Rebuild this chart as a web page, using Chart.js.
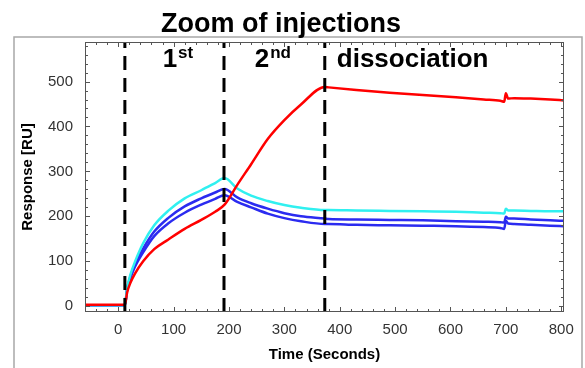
<!DOCTYPE html>
<html>
<head>
<meta charset="utf-8">
<script src="https://cdn.jsdelivr.net/npm/chart.js@4.4.1/dist/chart.umd.min.js"></script>
<style>
  html, body { margin: 0; padding: 0; background: #fff; }
</style>
</head>
<body>
<canvas id="sprChart" width="585" height="368"></canvas>
<script>
// time axis (seconds), shared by all sensorgrams
var times = [-60, 0, 12, 16, 22, 30, 45, 65, 90, 120, 150, 175, 192, 215, 240, 270, 300, 330, 373, 380, 430, 490, 550, 610, 660, 690, 697, 700, 704, 715, 745, 780, 805];

// response (RU)
var redCurve   = [3, 3, 3, 30, 52, 72, 100, 127, 148, 172, 192, 210, 226, 270, 316, 372, 414, 449, 488, 487, 481, 475, 470, 465, 460, 457, 455, 474, 462, 463, 462, 460, 458];
var cyanCurve  = [2, 2, 2, 40, 70, 98, 140, 180, 212, 240, 258, 274, 285, 262, 246, 234, 225, 219, 214, 214, 213, 212, 211, 210, 208, 207, 206, 217, 213, 213, 212, 211, 211];
var blueCurve1 = [2, 2, 2, 38, 66, 92, 128, 166, 196, 222, 240, 253, 261, 242, 229, 217, 207, 200, 195, 194, 193, 192, 191, 189, 188, 187, 186, 199, 195, 195, 193, 191, 190];
var blueCurve2 = [2, 2, 2, 36, 62, 87, 120, 156, 184, 208, 226, 239, 247, 232, 220, 206, 196, 189, 183, 183, 181, 180, 179, 178, 176, 174, 172, 190, 184, 183, 181, 179, 178];

// injection start / switch / dissociation start
var injectionTimes = [12, 191, 373];

// tick labels
var xTickValues = [0, 100, 200, 300, 400, 500, 600, 700, 800];
var yTickValues = [0, 100, 200, 300, 400, 500];

var xMin = -60, xMax = 805, yMin = -13, yMax = 588;
var FONT = '"Liberation Sans", Arial, sans-serif';

function toPoints(vals) {
  return vals.map(function (v, i) { return { x: times[i], y: v }; });
}

function curve(label, vals, color, order) {
  return {
    label: label,
    data: toPoints(vals),
    borderColor: color,
    borderWidth: 2.5,
    pointRadius: 0,
    cubicInterpolationMode: "monotone",
    fill: false,
    order: order
  };
}

var dashSets = injectionTimes.map(function (t) {
  return {
    label: "inj" + t,
    data: [{ x: t, y: yMin }, { x: t, y: yMax }],
    borderColor: "#000",
    borderWidth: 3,
    borderDash: [14, 8],
    pointRadius: 0,
    order: 0
  };
});

var framePlugin = {
  id: "frame",
  beforeDraw: function (chart) {
    var ctx = chart.ctx;
    ctx.save();
    ctx.fillStyle = "#fff";
    ctx.fillRect(0, 0, chart.width, chart.height);
    // outer panel frame
    ctx.strokeStyle = "#a8a8a8";
    ctx.lineWidth = 1.5;
    ctx.beginPath();
    ctx.moveTo(14, chart.height + 2);
    ctx.lineTo(14, 37);
    ctx.lineTo(582, 37);
    ctx.lineTo(582, chart.height + 2);
    ctx.stroke();
    // title
    ctx.fillStyle = "#000";
    ctx.font = "bold 27px " + FONT;
    ctx.textAlign = "center";
    ctx.textBaseline = "alphabetic";
    ctx.fillText("Zoom of injections", 281, 32);
    ctx.restore();
  },
  afterDraw: function (chart) {
    var ctx = chart.ctx, a = chart.chartArea;
    var xs = chart.scales.x, ys = chart.scales.y;
    ctx.save();
    ctx.strokeStyle = "#555";
    ctx.lineWidth = 1;
    ctx.strokeRect(a.left + 0.5, a.top + 0.5, a.right - a.left - 1, a.bottom - a.top - 1);
    ctx.beginPath();
    var v, p, len;
    for (v = -60; v <= 800; v += 20) {
      p = Math.round(xs.getPixelForValue(v)) + 0.5;
      len = (v % 100 === 0) ? 5 : 3;
      ctx.moveTo(p, a.bottom); ctx.lineTo(p, a.bottom - len);
      ctx.moveTo(p, a.top); ctx.lineTo(p, a.top + len);
    }
    for (v = 0; v <= 580; v += 20) {
      p = Math.round(ys.getPixelForValue(v)) + 0.5;
      len = (v % 100 === 0) ? 5 : 3;
      ctx.moveTo(a.left, p); ctx.lineTo(a.left + len, p);
      ctx.moveTo(a.right, p); ctx.lineTo(a.right - len, p);
    }
    ctx.stroke();

    // phase labels
    var baseY = a.top + 25;
    var p0 = xs.getPixelForValue(injectionTimes[0]);
    var p1 = xs.getPixelForValue(injectionTimes[1]);
    var p2 = xs.getPixelForValue(injectionTimes[2]);
    ctx.fillStyle = "#000";
    ctx.textBaseline = "alphabetic";
    ctx.textAlign = "left";
    function ordinal(big, sup, cx) {
      ctx.font = "bold 26px " + FONT;
      var w1 = ctx.measureText(big).width;
      ctx.font = "bold 17px " + FONT;
      var w2 = ctx.measureText(sup).width;
      var left = cx - (w1 + w2) / 2;
      ctx.font = "bold 26px " + FONT;
      ctx.fillText(big, left, baseY);
      ctx.font = "bold 17px " + FONT;
      ctx.fillText(sup, left + w1 + 1, baseY - 9);
    }
    ordinal("1", "st", (p0 + p1) / 2 + 3);
    ordinal("2", "nd", (p1 + p2) / 2 - 2);
    ctx.font = "bold 26px " + FONT;
    ctx.fillText("dissociation", p2 + 12, baseY);
    ctx.restore();
  }
};

var ctx = document.getElementById("sprChart").getContext("2d");
var sprChart = new Chart(ctx, {
  type: "line",
  data: {
    datasets: dashSets.concat([
      curve("red", redCurve, "#ff0000", 1),
      curve("cyan", cyanCurve, "#30f0f0", 2),
      curve("blue 1", blueCurve1, "#2b2bf0", 3),
      curve("blue 2", blueCurve2, "#2b2bf0", 4)
    ])
  },
  options: {
    responsive: false,
    devicePixelRatio: 1,
    animation: false,
    layout: { padding: { left: 0, right: 21, top: 42, bottom: 0 } },
    plugins: {
      legend: { display: false },
      tooltip: { enabled: false },
      title: { display: false }
    },
    scales: {
      x: {
        type: "linear",
        min: xMin,
        max: xMax,
        grid: { display: false, drawTicks: false },
        border: { display: false },
        afterBuildTicks: function (scale) {
          scale.ticks = xTickValues.map(function (v) { return { value: v }; });
        },
        afterFit: function (scale) { scale.height = 56; },
        ticks: {
          padding: 9,
          maxRotation: 0,
          autoSkip: false,
          color: "#333",
          font: { family: FONT, size: 15 }
        },
        title: {
          display: true,
          text: "Time (Seconds)",
          color: "#000",
          font: { family: FONT, size: 15, weight: "bold" },
          padding: { top: 0, bottom: 4 }
        }
      },
      y: {
        min: yMin,
        max: yMax,
        grid: { display: false, drawTicks: false },
        border: { display: false },
        afterBuildTicks: function (scale) {
          scale.ticks = yTickValues.map(function (v) { return { value: v }; });
        },
        afterFit: function (scale) { scale.width = 85; },
        ticks: {
          padding: 12,
          autoSkip: false,
          color: "#333",
          font: { family: FONT, size: 15 }
        },
        title: {
          display: true,
          text: "Response [RU]",
          color: "#000",
          font: { family: FONT, size: 15, weight: "bold" },
          padding: { top: 19, bottom: 0 }
        }
      }
    }
  },
  plugins: [framePlugin]
});
</script>
</body>
</html>
